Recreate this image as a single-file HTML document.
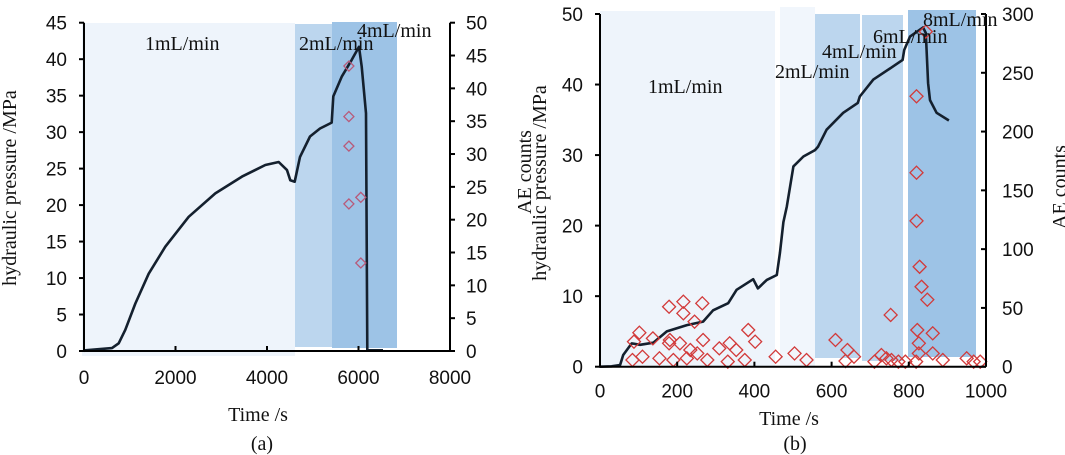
<!DOCTYPE html>
<html><head><meta charset="utf-8"><style>
html,body{margin:0;padding:0;background:#fff}
svg{display:block}
.tk{font-family:"Liberation Sans",sans-serif;font-size:19px;fill:#111}
.sf{font-family:"Liberation Serif",serif;fill:#111}
</style></head><body>
<svg id="c" width="1065" height="455" xmlns="http://www.w3.org/2000/svg"></svg>
<script>
// Panel (a) data
const aXTicks=[0,2000,4000,6000,8000];
const aYTicks=[0,5,10,15,20,25,30,35,40,45];
const aY2Ticks=[0,5,10,15,20,25,30,35,40,45,50];
const aTime=[0,29,612,758,903,1122,1414,1778,2288,2870,3453,3963,4255,4437,4510,4605,4721,4940,5158,5414,5450,5632,5851,6011,6070,6164,6193,6535];
const aPress=[0,0.1,0.4,1.05,2.9,6.5,10.6,14.3,18.4,21.6,23.9,25.5,25.9,24.8,23.4,23.2,26.6,29.4,30.5,31.3,34.9,37.6,39.9,41.7,39,32.6,0.1,0.1];
const aAETime=[5790,5790,5790,5790,6050,6050];
const aAE=[43.4,35.7,31.2,22.4,23.4,13.4];
// Panel (b) data
const bXTicks=[0,200,400,600,800,1000];
const bYTicks=[0,10,20,30,40,50];
const bY2Ticks=[0,50,100,150,200,250,300];
const bTime=[0,30,52,60,82,104,138,173,225,267,293,332,354,397,409,432,458,466,475,484,501,527,557,565,587,630,668,673,708,760,784,788,803,837,844,850,855,872,904];
const bPress=[0,0.05,0.24,1.66,3.3,3.1,3.4,5.0,5.9,6.4,8.0,9.0,10.9,12.4,11.1,12.3,13.0,16.1,20.5,22.7,28.4,29.8,30.7,31.2,33.6,36.0,37.4,38.3,40.7,42.6,43.5,44.9,46.8,48.1,47.3,40.2,37.8,36.0,34.9];
const bAETime=[179,216,265,216,245,102,88,137,181,179,207,267,384,402,309,336,353,234,252,84,110,154,190,225,278,331,375,455,504,535,610,641,658,636,753,729,742,755,773,820,820,820,828,833,848,862,822,826,826,862,888,950,968,985,819,791,711,844];
const bAE=[51,55.3,53.9,45.4,38.3,28.9,21.3,24.1,22.7,19.9,19.9,22.7,31.2,21.3,15.6,19.9,14.2,14.2,11.3,5.7,8.5,7.1,5.7,7.1,5.7,4.3,5.7,8.5,11.3,5.7,22.7,14.2,8.5,4.8,44,9.9,7.1,5.7,4.3,230,165,124,85,68,57,28.4,31.2,19.9,11.3,11.3,5.7,7.1,4.3,4.3,4.3,4.3,4.3,285];

const svg=document.getElementById('c');
const NS='http://www.w3.org/2000/svg';
function mk(tag,attrs,parent){const e=document.createElementNS(NS,tag);for(const k in attrs)e.setAttribute(k,attrs[k]);(parent||svg).appendChild(e);return e;}

function panel(P){
  const g=mk('g',{});
  
  
  const sx=t=>P.x0+(t-P.xmin)/(P.xmax-P.xmin)*(P.x1-P.x0);
  const sy=v=>P.y0-(v/P.ymax)*(P.y0-P.y1);
  const sy2=v=>P.y0-(v/P.y2max)*(P.y0-P.y1);
  P.bands.forEach(b=>{
    const r=mk('rect',{x:b[0],y:b[1],width:b[2]-b[0],height:b[3]-b[1],fill:b[4]},g);
    
    
  });
  let d='';P.time.forEach((t,i)=>{d+=(i?'L':'M')+sx(t).toFixed(1)+','+sy(P.press[i]).toFixed(1);});
  const pl=mk('path',{d:d,fill:'none',stroke:'#14202e','stroke-width':2.6,'stroke-linejoin':'round'},g);
  
  
  P.aeT.forEach((t,i)=>{
    const cx=sx(t),cy=sy2(P.ae[i]),h=P.ds;
    const p=mk('path',{d:`M${cx},${cy-h}L${cx+h},${cy}L${cx},${cy+h}L${cx-h},${cy}Z`,fill:'none',stroke:P.dc,'stroke-width':1.3},g);
    
    
  });
  const ax=mk('path',{d:`M${P.x0},${P.y1}V${P.y0}H${P.x1}M${P.x1},${P.y1}V${P.y0}`,fill:'none',stroke:'#000','stroke-width':2},g);
  
  
  P.xt.forEach(v=>{
    const x=sx(v);
    mk('line',{x1:x,x2:x,y1:P.y0,y2:P.y0-5,stroke:'#000','stroke-width':2},g);
    const t=mk('text',{x:x,y:P.y0+P.xlo,'text-anchor':'middle',class:'tk'},g);t.textContent=v;
    
    
  });
  P.yt.forEach(v=>{
    const y=sy(v);
    mk('line',{x1:P.x0-5,x2:P.x0,y1:y,y2:y,stroke:'#000','stroke-width':2},g);
    const t=mk('text',{x:P.x0-17,y:y+7,'text-anchor':'end',class:'tk'},g);t.textContent=v;
    
    
  });
  P.y2t.forEach(v=>{
    const y=sy2(v);
    mk('line',{x1:P.x1+P.rt,x2:P.x1,y1:y,y2:y,stroke:'#000','stroke-width':2},g);
    const t=mk('text',{x:P.x1+16,y:y+7,'text-anchor':'start',class:'tk'},g);t.textContent=v;
    
    
  });
  P.labels.forEach(l=>{
    const t=mk('text',{x:l[0],y:l[1],class:'sf','font-size':20},g);t.textContent=l[2];
    
    
  });
  P.texts.forEach(l=>{
    const a={x:l[0],y:l[1],class:'sf','font-size':20,'text-anchor':'middle'};
    if(l[3])a.transform=`rotate(-90 ${l[0]} ${l[1]})`;
    const t=mk('text',a,g);t.textContent=l[2];
    
    
  });
}

panel({name:'panel-a',x0:84,x1:450,y0:351,y1:22.7,xmin:0,xmax:8000,ymax:45,y2max:50,
  time:aTime,press:aPress,aeT:aAETime,ae:aAE,ds:5,dc:'#b85a7a',rt:5,xlo:33,
  xt:aXTicks,yt:aYTicks,y2t:aY2Ticks,
  bands:[[82,23,295,356,'#eef4fb'],[295,24,332,347,'#bcd6ee'],[332,22,397,348,'#9dc3e6']],
  labels:[[145,50,'1mL/min'],[299,50,'2mL/min'],[357,37,'4mL/min']],
  texts:[[258,421,'Time /s',0,'x-axis-title'],[262,450,'(a)',0,'caption-a'],[16,188,'hydraulic pressure /MPa',1,'y-axis-title']]});

panel({name:'panel-b',x0:600,x1:986,y0:366.7,y1:14,xmin:0,xmax:1000,ymax:50,y2max:300,
  time:bTime,press:bPress,aeT:bAETime,ae:bAE,ds:6.5,dc:'#d23a3a',rt:-5,xlo:31,
  xt:bXTicks,yt:bYTicks,y2t:bY2Ticks,
  bands:[[600,11,775,367,'#eef4fb'],[780,7,815,367,'#f1f6fc'],[815,14,860,358,'#bcd6ee'],[862,15,903,361,'#bcd6ee'],[908,10,976,357,'#9dc3e6']],
  labels:[[648,93,'1mL/min'],[775,78,'2mL/min'],[822,58,'4mL/min'],[873,43,'6mL/min'],[923,26,'8mL/min']],
  texts:[[789,425,'Time /s',0,'x-axis-title'],[795,450,'(b)',0,'caption-b'],[546,183,'hydraulic pressure /MPa',1,'y-axis-title'],[531,172,'AE counts',1,'y-axis-title-ae'],[1066,187,'AE counts',1,'y2-axis-title']]});
</script>
</body></html>
